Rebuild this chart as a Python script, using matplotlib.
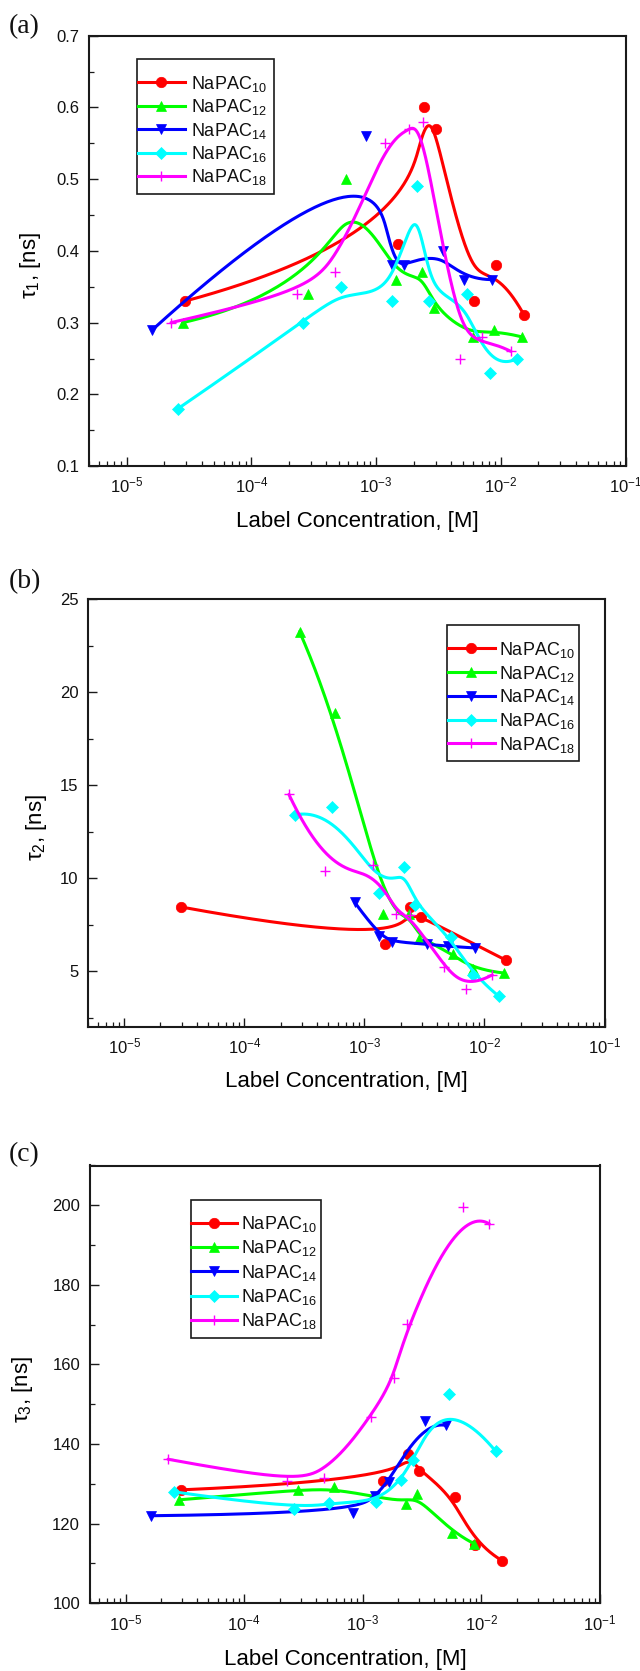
import numpy as np
import matplotlib
matplotlib.use('Agg')
import matplotlib.pyplot as plt
from matplotlib.ticker import LogLocator, MultipleLocator, NullFormatter, LogFormatterSciNotation
from matplotlib.patches import Rectangle

plt.rcParams.update({
    'font.family': ['Liberation Sans', 'DejaVu Sans'],
    'mathtext.fontset': 'custom',
    'mathtext.rm': 'Liberation Sans',
    'mathtext.it': 'Liberation Sans:italic',
    'mathtext.bf': 'Liberation Sans:bold',
})

# ---------------- data ----------------
labels = ['NaPAC$_{10}$', 'NaPAC$_{12}$', 'NaPAC$_{14}$', 'NaPAC$_{16}$', 'NaPAC$_{18}$']

# panel (a): tau1 [ns]
a10_x = [2.94e-5, 1.50e-3, 2.43e-3, 3.01e-3, 6.08e-3, 9.2e-3, 1.54e-2]
a10_y = [0.33, 0.41, 0.60, 0.57, 0.33, 0.38, 0.31]
a12_x = [2.82e-5, 2.87e-4, 5.77e-4, 1.44e-3, 2.32e-3, 2.92e-3, 5.97e-3, 8.75e-3, 1.48e-2]
a12_y = [0.30, 0.34, 0.50, 0.36, 0.37, 0.32, 0.28, 0.29, 0.28]
a14_x = [1.61e-5, 8.37e-4, 1.33e-3, 1.67e-3, 3.41e-3, 5.04e-3, 8.49e-3]
a14_y = [0.29, 0.56, 0.38, 0.38, 0.40, 0.36, 0.36]
a16_x = [2.58e-5, 2.61e-4, 5.26e-4, 1.33e-3, 2.12e-3, 2.66e-3, 5.37e-3, 8.13e-3, 1.35e-2]
a16_y = [0.18, 0.30, 0.35, 0.33, 0.49, 0.33, 0.34, 0.23, 0.25]
a18_x = [2.27e-5, 2.31e-4, 4.65e-4, 1.17e-3, 1.84e-3, 2.36e-3, 4.74e-3, 7.1e-3, 1.2e-2]
a18_y = [0.30, 0.34, 0.37, 0.55, 0.57, 0.58, 0.25, 0.28, 0.26]

# panel (b): tau2 [ns]
b10_x = [2.98e-5, 1.47e-3, 2.42e-3, 2.97e-3, 1.50e-2]
b10_y = [8.45, 6.45, 8.45, 7.9, 5.6]
b12_x = [2.88e-4, 5.74e-4, 1.43e-3, 2.37e-3, 2.84e-3, 5.5e-3, 8.0e-3, 1.45e-2]
b12_y = [23.25, 18.9, 8.1, 8.1, 6.75, 5.95, 5.1, 4.9]
b14_x = [8.3e-4, 1.33e-3, 1.70e-3, 3.33e-3, 4.97e-3, 8.35e-3]
b14_y = [8.7, 6.9, 6.56, 6.47, 6.33, 6.25]
b16_x = [2.64e-4, 5.32e-4, 1.32e-3, 2.13e-3, 2.62e-3, 5.3e-3, 8.05e-3, 1.32e-2]
b16_y = [13.4, 13.8, 9.2, 10.6, 8.55, 6.85, 4.77, 3.65]
b18_x = [2.35e-4, 4.68e-4, 1.17e-3, 1.83e-3, 2.4e-3, 4.63e-3, 7.06e-3, 1.16e-2]
b18_y = [14.5, 10.4, 10.7, 8.1, 8.0, 5.2, 4.05, 4.8]

# panel (c): tau3 [ns]
c10_x = [2.92e-5, 1.47e-3, 2.42e-3, 3.0e-3, 6.0e-3, 8.85e-3, 1.50e-2]
c10_y = [128.5, 130.7, 137.6, 133.2, 126.8, 114.7, 110.7]
c12_x = [2.84e-5, 2.86e-4, 5.72e-4, 2.31e-3, 2.87e-3, 5.7e-3, 8.7e-3]
c12_y = [126.0, 128.5, 129.2, 124.9, 127.5, 117.6, 115.0]
c14_x = [1.63e-5, 8.26e-4, 1.27e-3, 1.66e-3, 3.33e-3, 5.02e-3]
c14_y = [122.0, 122.6, 127.0, 130.5, 145.8, 144.7]
c16_x = [2.58e-5, 2.61e-4, 5.24e-4, 1.30e-3, 2.09e-3, 2.63e-3, 5.30e-3, 1.32e-2]
c16_y = [128.0, 123.7, 125.3, 125.4, 130.9, 136.1, 152.5, 138.2]
c18_x = [2.28e-5, 2.31e-4, 4.67e-4, 1.17e-3, 1.85e-3, 2.34e-3, 6.98e-3, 1.17e-2]
c18_y = [136.2, 130.7, 131.5, 146.9, 156.7, 170.3, 199.5, 195.3]

# ---------------- style ----------------
colors = ['#FF0000', '#00FF00', '#0000FF', '#00FFFF', '#FF00FF']
markers = ['o', '^', 'v', 'D', '+']
msizes = [7.5, 7.8, 7.8, 6.4, 7.0]
W, H = 640, 1671
SP = '#1a1a1a'


def bspline(x, y, n=500, k=3):
    """Clamped uniform B-spline with the data points as control points (log-x space)."""
    P = np.column_stack([np.log10(np.asarray(x, float)), np.asarray(y, float)])
    m = len(P)
    k = min(k, m - 1)
    knots = np.concatenate([np.zeros(k), np.linspace(0, 1, m - k + 1), np.ones(k)])
    t = np.linspace(0, 1, n)
    nb = len(knots) - 1
    N = np.zeros((nb, n))
    for i in range(nb):
        N[i] = (knots[i] <= t) & (t < knots[i + 1])
    last = max(i for i in range(nb) if knots[i] < knots[i + 1])
    N[last, t >= 1] = 1
    for d in range(1, k + 1):
        Nn = np.zeros((nb - d, n))
        for i in range(nb - d):
            a = knots[i + d] - knots[i]
            b = knots[i + d + 1] - knots[i + 1]
            term = np.zeros(n)
            if a > 0:
                term += (t - knots[i]) / a * N[i]
            if b > 0:
                term += (knots[i + d + 1] - t) / b * N[i + 1]
            Nn[i] = term
        N = Nn
    C = N.T @ P
    return 10 ** C[:, 0], C[:, 1]


fig = plt.figure(figsize=(W / 100, H / 100), dpi=100)


def px_rect(l, r, t, b):
    return [l / W, 1 - b / H, (r - l) / W, (b - t) / H]


panels = [
    dict(rect=px_rect(89.0, 625.7, 35.7, 466.1), ylim=(0.1, 0.7), maj=0.1, mnr=0.05,
         ylabel=r'$\mathregular{\tau_{1}}$, [ns]', ylc=(-0.1088, 0.467), xly=-0.1276,
         data=[(a10_x, a10_y), (a12_x, a12_y), (a14_x, a14_y), (a16_x, a16_y), (a18_x, a18_y)]),
    dict(rect=px_rect(88.2, 604.5, 599.1, 1027.0), ylim=(2, 25), maj=5, mnr=2.5,
         ylabel=r'$\mathregular{\tau_{2}}$, [ns]', ylc=(-0.0997, 0.467), xly=-0.128,
         data=[(b10_x, b10_y), (b12_x, b12_y), (b14_x, b14_y), (b16_x, b16_y), (b18_x, b18_y)]),
    dict(rect=px_rect(89.8, 600.0, 1165.5, 1603.3), ylim=(100, 210), maj=20, mnr=10,
         ylabel=r'$\mathregular{\tau_{3}}$, [ns]', ylc=(-0.132, 0.488), xly=-0.128,
         data=[(c10_x, c10_y), (c12_x, c12_y), (c14_x, c14_y), (c16_x, c16_y), (c18_x, c18_y)]),
]

for p in panels:
    ax = fig.add_axes(p['rect'])
    for (x, y), c, m, ms in zip(p['data'], colors, markers, msizes):
        cx, cy = bspline(x, y)
        ax.plot(cx, cy, '-', color=c, lw=2.2, solid_capstyle='round')
        mew = 1.0 if m == '+' else 0.5
        ax.plot(x, y, ls='none', marker=m, ms=ms, color=c, mec=c, mew=mew)
    ax.set_xscale('log')
    ax.set_xlim(5e-6, 0.1)
    ax.set_ylim(*p['ylim'])
    ax.xaxis.set_major_locator(LogLocator(base=10, numticks=20))
    ax.xaxis.set_minor_locator(LogLocator(base=10, subs=np.arange(2, 10) * 1.0, numticks=20))
    ax.xaxis.set_minor_formatter(NullFormatter())
    ax.xaxis.set_major_formatter(LogFormatterSciNotation())
    ax.yaxis.set_major_locator(MultipleLocator(p['maj']))
    ax.yaxis.set_minor_locator(MultipleLocator(p['mnr']))
    ax.tick_params(which='both', direction='in', top=False, right=False,
                   color=SP, labelsize=12, labelcolor='#111111')
    ax.tick_params(which='major', length=6.5, width=1.0, pad=7)
    ax.tick_params(which='minor', length=3.6, width=0.9)
    for s in ax.spines.values():
        s.set_color(SP)
        s.set_linewidth(1.5)
    ax.set_xlabel('Label Concentration, [M]', fontsize=16, va='center')
    ax.xaxis.set_label_coords(0.5, p['xly'])
    ax.set_ylabel(p['ylabel'], fontsize=16, va='center')
    ax.yaxis.set_label_coords(*p['ylc'])

# overlay in pixel coordinates for legends and panel letters
ov = fig.add_axes([0, 0, 1, 1])
ov.set_xlim(0, W)
ov.set_ylim(H, 0)
ov.axis('off')

legends = [
    dict(box=(137.3, 59, 274.3, 194), line=(137.8, 185), tx=190.7, y0=82.3, dy=23.4),
    dict(box=(447.3, 625.3, 579.3, 761.3), line=(447.8, 495), tx=499, y0=648.3, dy=23.75),
    dict(box=(190.6, 1200, 321.1, 1338.3), line=(191.1, 236.7), tx=241.2, y0=1222.7, dy=24.3),
]
LFS = 13
for L in legends:
    x0, y0, x1, y1 = L['box']
    ov.add_patch(Rectangle((x0, y0), x1 - x0, y1 - y0, fill=False, ec=SP, lw=1.2, zorder=5))
    la, lb = L['line']
    for i, (lab, c, m, ms) in enumerate(zip(labels, colors, markers, msizes)):
        yy = L['y0'] + i * L['dy']
        ov.plot([la, lb], [yy, yy], '-', color=c, lw=2.2, zorder=6)
        mew = 1.0 if m == '+' else 0.5
        ov.plot([(la + lb) / 2], [yy], ls='none', marker=m, ms=ms, color=c, mec=c, mew=mew, zorder=7)
        ov.text(L['tx'], yy + 0.358 * LFS * 100 / 72, lab, fontsize=LFS, ha='left',
                va='baseline', color='#111111', zorder=8)

for txt, yc in [('(a)', 27), ('(b)', 582), ('(c)', 1154.5)]:
    ov.text(8.5, yc, txt, fontsize=20, family=['Liberation Serif', 'DejaVu Serif'],
            ha='left', va='center', color='#111111')

fig.savefig('out.png', dpi=100)
